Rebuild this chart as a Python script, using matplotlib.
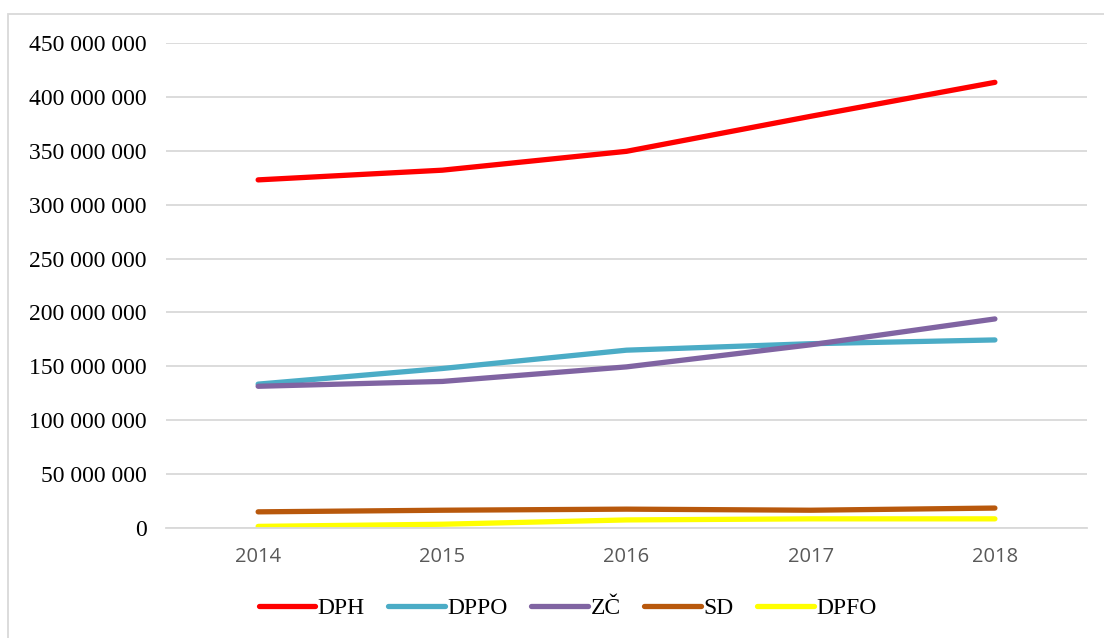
import matplotlib.pyplot as plt
from matplotlib.patches import Rectangle
from matplotlib.ticker import FuncFormatter, MultipleLocator

years = ["2014", "2015", "2016", "2017", "2018"]
dph = [323_000_000, 332_000_000, 349_500_000, 382_000_000, 413_500_000]
dppo = [133_500_000, 148_000_000, 165_000_000, 171_000_000, 174_500_000]
zc = [131_500_000, 136_000_000, 149_500_000, 170_000_000, 194_000_000]
sd = [15_000_000, 16_500_000, 17_500_000, 16_500_000, 18_500_000]
dpfo = [1_500_000, 3_500_000, 7_500_000, 8_500_000, 8_500_000]

series = [
    ("DPH", dph, "#FF0000"),
    ("DPPO", dppo, "#4BACC6"),
    ("ZČ", zc, "#8064A2"),
    ("SD", sd, "#B8580C"),
    ("DPFO", dpfo, "#FFFF00"),
]

fig = plt.figure(figsize=(11.04, 6.38), dpi=100)
ax = fig.add_axes([0.1504, 0.1724, 0.8342, 0.7602])

x = range(len(years))
for name, vals, color in series:
    ax.plot(x, vals, color=color, lw=3.8, solid_capstyle="round", label=name)

ax.set_xlim(-0.5, len(years) - 0.5)
ax.set_ylim(0, 450_000_000)
ax.yaxis.set_major_locator(MultipleLocator(50_000_000))
ax.yaxis.set_major_formatter(FuncFormatter(lambda v, p: f"{int(v):,}".replace(",", " ")))
ax.set_xticks(list(x))
ax.set_xticklabels(years)

ax.grid(axis="y", color="#d9d9d9", lw=1.3)
ax.set_axisbelow(True)
for s in ["top", "right", "left"]:
    ax.spines[s].set_visible(False)
ax.spines["bottom"].set_color("#d9d9d9")
ax.spines["bottom"].set_linewidth(1.3)
ax.tick_params(axis="both", length=0)
ax.tick_params(axis="y", pad=14)
ax.tick_params(axis="x", pad=14)
for lbl in ax.get_yticklabels():
    lbl.set_fontfamily("Liberation Serif")
    lbl.set_fontsize(17)
for lbl in ax.get_xticklabels():
    lbl.set_fontfamily("Open Sans")
    lbl.set_fontsize(14.5)
    lbl.set_color("#595959")

fig.legend(
    loc="center",
    bbox_to_anchor=(0.514, 0.047),
    ncol=5,
    frameon=False,
    prop={"family": "Liberation Serif", "size": 17},
    handlelength=2.4,
    handletextpad=0.1,
    columnspacing=1.0,
)

# outer chart-area border
fig.patches.append(
    Rectangle((8 / 1104, -0.01), 1.0, 1 - 14 / 638 + 0.01,
              transform=fig.transFigure, fill=False, edgecolor="#d9d9d9", lw=1.3)
)

fig.savefig("out.png", dpi=100)
